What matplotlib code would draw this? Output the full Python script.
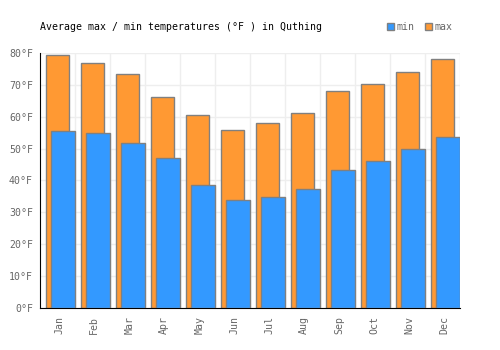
import numpy as np
import matplotlib.pyplot as plt
from matplotlib.patches import Patch

months = ["Jan", "Feb", "Mar", "Apr", "May", "Jun", "Jul", "Aug", "Sep", "Oct", "Nov", "Dec"]
temp_max = [79.5, 77.0, 73.3, 66.2, 60.4, 55.7, 57.9, 61.3, 68.2, 70.4, 73.9, 78.0]
temp_min = [55.5, 54.8, 51.9, 47.2, 38.5, 33.8, 34.7, 37.2, 43.2, 46.0, 49.8, 53.5]
y_ticks = [0, 10, 20, 30, 40, 50, 60, 70, 80]

plt.rcParams['font.family'] = 'DejaVu Sans Mono'
fs = 7.15

fig = plt.figure(figsize=(5, 3.5), dpi=100)
ax = fig.add_axes([0.08, 0.12, 0.84, 0.7286])

x = np.arange(len(months))
ax.bar(x + 0.18, temp_max, width=0.66, align='edge', color='#ff9933',
       edgecolor='#808080', linewidth=1, zorder=2)
ax.bar(x + 0.32, temp_min, width=0.68, align='edge', color='#3399ff',
       edgecolor='#808080', linewidth=1, zorder=3)

ax.set_xlim(0, 12)
ax.set_ylim(0, 80)
ax.set_yticks(y_ticks)
ax.set_yticklabels([f"{v}°F" for v in y_ticks], fontsize=fs, color='#666666')
ax.set_xticks(x + 0.55)
ax.set_xticklabels(months, rotation=90, fontsize=fs, color='#666666')
ax.set_xticks(np.arange(1, 13), minor=True)
ax.tick_params(axis='both', which='both', length=0)
ax.tick_params(axis='y', pad=5)
ax.tick_params(axis='x', pad=6)

ax.grid(True, axis='y', which='major', color='#eeeeee', linewidth=1, zorder=0)
ax.grid(True, axis='x', which='minor', color='#eeeeee', linewidth=1, zorder=0)
ax.set_axisbelow(True)

for s in ['top', 'right']:
    ax.spines[s].set_visible(False)
ax.spines['left'].set_color('black')
ax.spines['bottom'].set_color('black')

fig.text(0.08, 0.922, "Average max / min temperatures (°F ) in Quthing",
         fontsize=fs, color='black', va='center')

handles = [Patch(facecolor='#3399ff', edgecolor='#808080', label='min'),
           Patch(facecolor='#ff9933', edgecolor='#808080', label='max')]
fig.legend(handles=handles, loc='center right', bbox_to_anchor=(0.915, 0.922),
           ncol=2, frameon=False, fontsize=fs, handlelength=0.7, handleheight=0.7,
           handletextpad=0.3, columnspacing=1.0, labelcolor='#666666', borderpad=0)

fig.savefig('out.png', dpi=100)
